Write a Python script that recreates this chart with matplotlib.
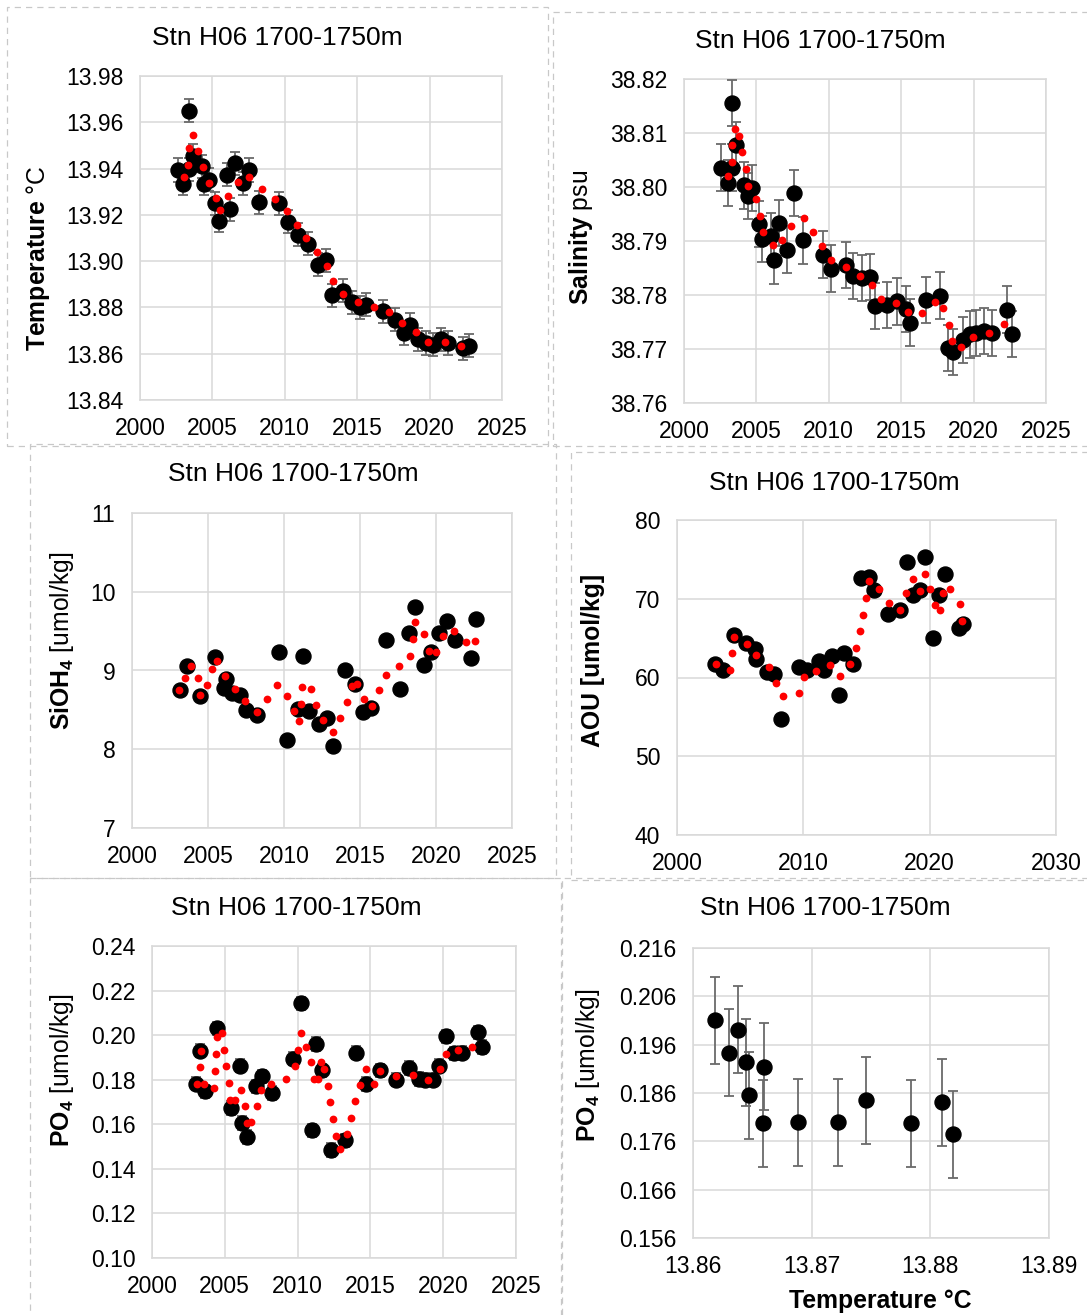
import matplotlib
matplotlib.use("Agg")
import matplotlib.pyplot as plt
from matplotlib.patches import Rectangle
from matplotlib.ticker import FormatStrFormatter, MultipleLocator

plt.rcParams['font.family'] = ['Liberation Sans', 'DejaVu Sans']
plt.rcParams['mathtext.fontset'] = 'custom'
plt.rcParams['mathtext.rm'] = 'Liberation Sans'
plt.rcParams['mathtext.bf'] = 'Liberation Sans:bold'
plt.rcParams['mathtext.it'] = 'Liberation Sans:italic'

titre = "Stn H06 1700-1750m"

# --- Temperature (annees, valeurs, moyenne glissante) ---
temp_year = [2002.59, 2003.00, 2003.39, 2003.64, 2003.41, 2004.26, 2004.45, 2004.75, 2005.21, 2005.46,
             2006.22, 2006.03, 2006.54, 2007.14, 2007.55, 2008.24, 2009.62, 2010.20, 2010.93, 2011.62,
             2012.31, 2012.84, 2013.23, 2013.99, 2014.61, 2015.18, 2015.64, 2016.75, 2017.64, 2018.24,
             2018.68, 2019.21, 2019.74, 2020.24, 2020.77, 2021.28, 2022.31, 2022.72]
temp_val = [13.9394, 13.9334, 13.9650, 13.9456, 13.9397, 13.9409, 13.9334, 13.9351, 13.9250, 13.9175,
            13.9224, 13.9374, 13.9423, 13.9337, 13.9394, 13.9255, 13.9250, 13.9171, 13.9114, 13.9075,
            13.8984, 13.9003, 13.8852, 13.8872, 13.8823, 13.8801, 13.8811, 13.8783, 13.8747, 13.8689,
            13.8725, 13.8663, 13.8646, 13.8639, 13.8663, 13.8646, 13.8624, 13.8634]
temp_err = 0.005
temp_fit_year = [2003.05, 2003.34, 2003.39, 2003.64, 2004.01, 2004.33, 2004.75, 2005.28, 2005.53, 2006.10,
                 2006.75, 2007.55, 2008.40, 2009.32, 2010.13, 2010.82, 2011.48, 2012.20, 2012.89, 2013.34,
                 2014.03, 2015.07, 2016.15, 2017.21, 2018.10, 2019.05, 2019.92, 2021.05, 2022.20]
temp_fit = [13.9364, 13.9414, 13.9488, 13.9547, 13.9476, 13.9406, 13.9337, 13.9275, 13.9219, 13.9282,
            13.9342, 13.9364, 13.9312, 13.9268, 13.9216, 13.9157, 13.9098, 13.9040, 13.8981, 13.8915,
            13.8857, 13.8823, 13.8801, 13.8780, 13.8732, 13.8695, 13.8649, 13.8652, 13.8634]

# --- Salinite ---
sal_year = [2003.34, 2002.53, 2003.04, 2003.34, 2003.62, 2004.15, 2004.42, 2004.72, 2005.18, 2005.41,
            2006.04, 2006.22, 2006.54, 2007.12, 2007.58, 2008.23, 2009.61, 2010.18, 2011.17, 2011.64,
            2012.30, 2012.83, 2013.18, 2013.99, 2014.68, 2015.32, 2015.60, 2016.71, 2017.67, 2018.20,
            2018.59, 2019.29, 2019.75, 2020.16, 2020.71, 2021.27, 2022.33, 2022.67]
sal_val = [38.8156, 38.8036, 38.8007, 38.8036, 38.8078, 38.8003, 38.7983, 38.7998, 38.7931, 38.7904,
           38.7909, 38.7864, 38.7933, 38.7884, 38.7989, 38.7901, 38.7875, 38.7849, 38.7856, 38.7835,
           38.7831, 38.7833, 38.7780, 38.7782, 38.7788, 38.7774, 38.7749, 38.7791, 38.7799, 38.7702,
           38.7694, 38.7717, 38.7727, 38.7730, 38.7733, 38.7730, 38.7773, 38.7728]
sal_err = 0.0043
sal_fit_year = [2003.50, 2003.78, 2003.34, 2004.01, 2003.32, 2004.26, 2003.04, 2004.40, 2004.95, 2005.28,
                2005.46, 2006.15, 2006.80, 2007.42, 2008.27, 2008.92, 2009.56, 2010.18, 2011.17, 2012.14,
                2012.99, 2013.62, 2014.61, 2015.48, 2016.45, 2017.35, 2017.90, 2018.27, 2018.53, 2019.12,
                2019.98, 2021.08, 2022.07]
sal_fit = [38.8108, 38.8095, 38.8077, 38.8064, 38.8046, 38.8033, 38.8021, 38.8001, 38.7977, 38.7947,
           38.7916, 38.7893, 38.7902, 38.7927, 38.7943, 38.7917, 38.7890, 38.7864, 38.7852, 38.7835,
           38.7819, 38.7793, 38.7785, 38.7768, 38.7767, 38.7787, 38.7776, 38.7745, 38.7714, 38.7703,
           38.7723, 38.7730, 38.7746]

# --- Silicates ---
si_year = [2003.13, 2003.64, 2004.49, 2005.46, 2006.21, 2006.03, 2006.60, 2007.13, 2007.53, 2008.23,
           2009.64, 2010.21, 2011.26, 2010.93, 2011.66, 2012.32, 2012.85, 2013.24, 2014.01, 2014.65,
           2015.22, 2015.70, 2016.74, 2017.64, 2018.25, 2018.65, 2019.22, 2019.66, 2020.23, 2020.71,
           2021.22, 2022.32, 2022.65]
si_val = [8.755, 9.063, 8.679, 9.177, 8.895, 8.776, 8.713, 8.684, 8.494, 8.439,
          9.241, 8.122, 9.190, 8.515, 8.481, 8.321, 8.397, 8.038, 9.008, 8.827,
          8.473, 8.523, 9.392, 8.764, 9.473, 9.810, 9.072, 9.241, 9.481, 9.629,
          9.392, 9.165, 9.650]
si_fit_year = [2003.09, 2003.51, 2003.90, 2004.34, 2004.49, 2004.96, 2005.26, 2005.62, 2006.14, 2006.76,
               2007.46, 2008.25, 2008.91, 2009.57, 2010.23, 2010.65, 2011.00, 2011.11, 2011.20, 2011.75,
               2012.08, 2012.54, 2013.20, 2013.68, 2014.12, 2014.45, 2014.82, 2015.29, 2015.77, 2016.23,
               2016.71, 2017.59, 2018.30, 2018.47, 2018.65, 2019.18, 2019.51, 2019.97, 2020.45, 2021.20,
               2021.95, 2022.58]
si_fit = [8.751, 8.903, 9.059, 8.911, 8.692, 8.810, 9.021, 9.122, 8.924, 8.768,
          8.616, 8.468, 8.641, 8.814, 8.679, 8.481, 8.354, 8.574, 8.789, 8.768,
          8.565, 8.376, 8.219, 8.397, 8.595, 8.797, 8.827, 8.637, 8.544, 8.747,
          8.937, 9.063, 9.190, 9.401, 9.620, 9.460, 9.249, 9.241, 9.435, 9.506,
          9.359, 9.380]

# --- AOU ---
aou_year = [2003.03, 2003.64, 2004.49, 2005.49, 2006.20, 2006.28, 2007.12, 2007.70, 2008.26, 2009.63,
            2010.29, 2011.21, 2011.66, 2012.27, 2013.19, 2012.85, 2013.93, 2014.56, 2015.22, 2015.62,
            2016.70, 2017.68, 2018.21, 2018.68, 2019.26, 2019.66, 2020.24, 2020.71, 2021.24, 2022.30,
            2022.64]
aou_val = [61.76, 60.91, 65.45, 64.39, 63.67, 62.31, 60.70, 60.48, 54.67, 61.33,
           60.91, 62.10, 60.91, 62.73, 63.16, 57.81, 61.76, 72.58, 72.79, 71.09,
           68.12, 68.54, 74.70, 70.45, 71.09, 75.25, 65.02, 70.45, 73.13, 66.34,
           66.76]
aou_fit_year = [2003.09, 2004.22, 2004.38, 2004.49, 2005.54, 2006.28, 2007.26, 2007.84, 2008.39, 2009.68,
                2010.08, 2011.00, 2012.14, 2012.88, 2013.72, 2014.17, 2014.46, 2014.72, 2014.99, 2015.22,
                2015.96, 2016.78, 2017.68, 2018.10, 2018.68, 2019.26, 2019.66, 2020.05, 2020.45, 2020.84,
                2021.06, 2021.64, 2022.37, 2022.59]
aou_fit = [61.67, 60.91, 63.07, 65.19, 64.30, 62.82, 61.33, 59.34, 57.60, 58.02,
           60.06, 60.78, 61.63, 60.19, 61.76, 63.75, 65.87, 67.99, 70.11, 72.24,
           71.22, 69.52, 68.63, 70.75, 72.49, 70.96, 73.08, 71.22, 69.18, 68.63,
           70.75, 71.22, 69.39, 67.23]

# --- Phosphates ---
po4_year = [2003.04, 2003.32, 2003.66, 2004.46, 2005.45, 2006.02, 2006.18, 2006.52, 2007.16, 2007.55,
            2008.24, 2009.66, 2010.25, 2010.98, 2011.26, 2011.67, 2012.31, 2013.27, 2014.00, 2014.69,
            2015.68, 2016.75, 2017.67, 2018.31, 2018.76, 2019.29, 2019.70, 2020.21, 2020.76, 2021.30,
            2022.38, 2022.68]
po4_val = [0.1782, 0.1931, 0.1748, 0.2031, 0.1673, 0.1863, 0.1606, 0.1543, 0.1770, 0.1815,
           0.1740, 0.1894, 0.2143, 0.1573, 0.1961, 0.1842, 0.1484, 0.1528, 0.1922, 0.1781,
           0.1842, 0.1800, 0.1852, 0.1803, 0.1800, 0.1800, 0.1863, 0.1994, 0.1919, 0.1922,
           0.2012, 0.1946]
po4_err = 0.003
po4_fit_year = [2003.09, 2003.39, 2003.32, 2003.59, 2004.23, 2004.35, 2004.39, 2004.46, 2004.78, 2004.97,
                2005.10, 2005.26, 2005.38, 2005.72, 2006.11, 2006.36, 2006.52, 2006.82, 2007.21, 2007.48,
                2008.17, 2009.22, 2009.79, 2010.00, 2010.23, 2010.57, 2010.92, 2011.14, 2011.40, 2011.62,
                2011.83, 2012.06, 2012.24, 2012.43, 2012.63, 2012.88, 2013.39, 2013.68, 2013.96, 2014.30,
                2014.69, 2015.22, 2015.68, 2016.77, 2017.96, 2018.99, 2019.79, 2020.21, 2021.05, 2021.97]
po4_fit = [0.1782, 0.1930, 0.1855, 0.1779, 0.1763, 0.1839, 0.1915, 0.1990, 0.2009, 0.1934,
           0.1860, 0.1785, 0.1710, 0.1707, 0.1755, 0.1681, 0.1606, 0.1609, 0.1681, 0.1755,
           0.1781, 0.1803, 0.1860, 0.1934, 0.2009, 0.1949, 0.1878, 0.1803, 0.1803, 0.1878,
           0.1848, 0.1773, 0.1699, 0.1624, 0.1549, 0.1490, 0.1558, 0.1628, 0.1703, 0.1775,
           0.1848, 0.1781, 0.1840, 0.1818, 0.1822, 0.1800, 0.1848, 0.1915, 0.1934, 0.1949]

# --- PO4 en fonction de la temperature ---
tp_temp = [13.86188, 13.86303, 13.86376, 13.86449, 13.86474, 13.86595, 13.86589,
           13.86889, 13.87220, 13.87459, 13.87837, 13.88101, 13.88188]
tp_po4 = [0.20103, 0.19428, 0.19910, 0.19234, 0.18552, 0.19138, 0.17979,
          0.17999, 0.17999, 0.18455, 0.17972, 0.18407, 0.17745]
tp_err = 0.009
tp_yticks = [0.156, 0.166, 0.176, 0.186, 0.196, 0.206, 0.216]

W, H = 1087, 1315
fig = plt.figure(figsize=(W / 100, H / 100), dpi=100)

GRIS = "#d9d9d9"


def px_axes(x0, y0, x1, y1):
    # position en pixels (haut-gauche / bas-droite) -> fraction de la figure
    return fig.add_axes([x0 / W, 1 - y1 / H, (x1 - x0) / W, (y1 - y0) / H])


def cadre(x0, y0, x1, y1):
    fig.patches.append(Rectangle((x0 / W, 1 - y1 / H), (x1 - x0) / W, (y1 - y0) / H,
                                 transform=fig.transFigure, fill=False, edgecolor="#c8c8c8",
                                 linestyle=(0, (5, 4)), linewidth=0.9))


def style(ax, xlim, xstep, ylim, ystep, yfmt):
    ax.set_xlim(*xlim)
    ax.set_ylim(*ylim)
    ax.xaxis.set_major_locator(MultipleLocator(xstep))
    ax.yaxis.set_major_locator(MultipleLocator(ystep))
    ax.yaxis.set_major_formatter(FormatStrFormatter(yfmt))
    ax.grid(True, color=GRIS, linewidth=1.1)
    ax.set_axisbelow(True)
    for s in ax.spines.values():
        s.set_color(GRIS)
        s.set_linewidth(1.1)
    ax.tick_params(length=0, pad=12, labelsize=16.5, colors="black")


def fig_text(x, y, txt, **kw):
    fig.text(x / W, 1 - y / H, txt, ha="center", va="center", **kw)


def points(ax, x, y, err=None):
    if err is None:
        ax.plot(x, y, "o", color="black", ms=10.8, zorder=3)
    else:
        ax.errorbar(x, y, yerr=err, fmt="o", color="black", ms=10.8, ecolor="#6a6a6a",
                    elinewidth=1.3, capsize=3.5, capthick=1.3, zorder=3)


def moyenne(ax, x, y):
    ax.plot(x, y, "o", color="#ff0000", ms=5.6, zorder=4, markeredgewidth=0)


# cadres pointilles
cadre(7, 7, 548, 446)
cadre(553, 12, 1090, 446)
cadre(30, 444, 556, 878)
cadre(571, 452, 1090, 880)
cadre(30, 878, 561, 1318)
cadre(562, 878, 1090, 1318)

# Temperature
ax1 = px_axes(140, 76, 502, 400)
points(ax1, temp_year, temp_val, temp_err)
moyenne(ax1, temp_fit_year, temp_fit)
style(ax1, (2000, 2025), 5, (13.84, 13.98), 0.02, "%.2f")
fig_text(277, 38, titre, fontsize=19)
fig_text(38, 258, r"$\mathbf{Temperature}$ °C", fontsize=17.8, rotation=90)

# Salinite
ax2 = px_axes(684, 79, 1046, 403)
points(ax2, sal_year, sal_val, sal_err)
moyenne(ax2, sal_fit_year, sal_fit)
style(ax2, (2000, 2025), 5, (38.76, 38.82), 0.01, "%.2f")
fig_text(820, 41, titre, fontsize=19)
fig_text(581, 237, r"$\mathbf{Salinity}$ psu", fontsize=17.8, rotation=90)

# SiOH4
ax3 = px_axes(132, 513, 512, 828)
points(ax3, si_year, si_val)
moyenne(ax3, si_fit_year, si_fit)
style(ax3, (2000, 2025), 5, (7, 11), 1, "%d")
fig_text(293, 474, titre, fontsize=19)
fig_text(62, 641, r"$\mathbf{SiOH}_\mathbf{4}$ [umol/kg]", fontsize=17.8, rotation=90)

# AOU
ax4 = px_axes(677, 520, 1056, 835)
points(ax4, aou_year, aou_val)
moyenne(ax4, aou_fit_year, aou_fit)
style(ax4, (2000, 2030), 10, (40, 80), 10, "%d")
fig_text(834, 483, titre, fontsize=19)
fig_text(593, 660, "AOU [umol/kg]", fontsize=17.8, rotation=90, fontweight="bold")

# PO4
ax5 = px_axes(152, 946, 516, 1258)
points(ax5, po4_year, po4_val, po4_err)
moyenne(ax5, po4_fit_year, po4_fit)
style(ax5, (2000, 2025), 5, (0.10, 0.24), 0.02, "%.2f")
fig_text(296, 908, titre, fontsize=19)
fig_text(62, 1070, r"$\mathbf{PO}_\mathbf{4}$ [umol/kg]", fontsize=17.8, rotation=90)

# PO4 vs Temperature
ax6 = px_axes(693, 948, 1049, 1238)
points(ax6, tp_temp, tp_po4, tp_err)
style(ax6, (13.86, 13.89), 0.01, (0.156, 0.216), 0.01, "%.3f")
ax6.set_yticks(tp_yticks)
ax6.xaxis.set_major_formatter(FormatStrFormatter("%.2f"))
fig_text(825, 908, titre, fontsize=19)
fig_text(588, 1065, r"$\mathbf{PO}_\mathbf{4}$ [umol/kg]", fontsize=17.8, rotation=90)
fig_text(880, 1301, "Temperature °C", fontsize=17.8, fontweight="bold")

fig.savefig("out.png", dpi=100)
